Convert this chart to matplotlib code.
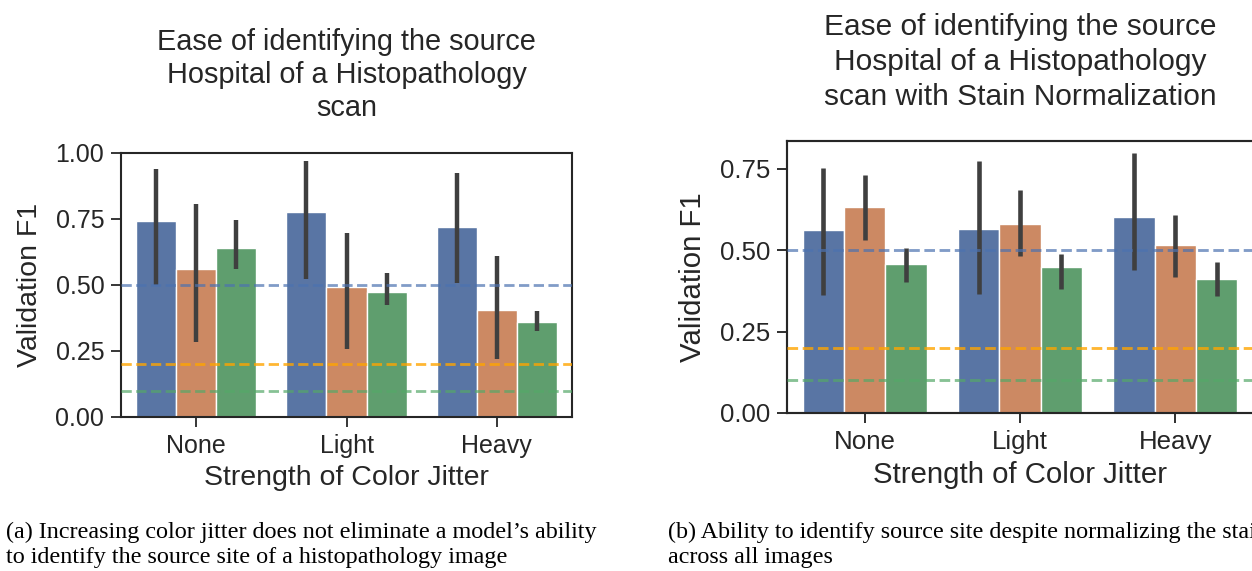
import numpy as np
import matplotlib
matplotlib.use("Agg")
import matplotlib.pyplot as plt

plt.rcParams['font.family'] = ['Liberation Sans', 'DejaVu Sans']

categories = ["None", "Light", "Heavy"]

# Left panel: mean and CI bounds per hue (3 hue levels)
left_means = [[0.743, 0.775, 0.718],
              [0.560, 0.493, 0.406],
              [0.640, 0.474, 0.358]]
left_lo = [[0.501, 0.522, 0.509],
           [0.284, 0.259, 0.219],
           [0.560, 0.425, 0.326]]
left_hi = [[0.939, 0.971, 0.923],
           [0.807, 0.697, 0.611],
           [0.746, 0.544, 0.402]]

# Right panel
right_means = [[0.561, 0.567, 0.602],
               [0.633, 0.582, 0.515],
               [0.458, 0.449, 0.412]]
right_lo = [[0.362, 0.367, 0.439],
            [0.531, 0.484, 0.418],
            [0.402, 0.381, 0.361]]
right_hi = [[0.752, 0.774, 0.799],
            [0.733, 0.686, 0.610],
            [0.507, 0.490, 0.465]]

baselines = [0.5, 0.2, 0.1]
baseline_colors = [(0.298, 0.447, 0.690, 0.7), (1.0, 0.647, 0.0, 0.8), (0.333, 0.659, 0.408, 0.7)]
bar_colors = ["#5975a4", "#cc8963", "#5f9e6e"]

yticks_left = [0.00, 0.25, 0.50, 0.75, 1.00]
yticks_right = [0.00, 0.25, 0.50, 0.75]

title_left = "Ease of identifying the source\nHospital of a Histopathology\nscan"
title_right = "Ease of identifying the source\nHospital of a Histopathology\nscan with Stain Normalization"
xlabel = "Strength of Color Jitter"
ylabel = "Validation F1"
caption_a = "(a) Increasing color jitter does not eliminate a model\u2019s ability\nto identify the source site of a histopathology image"
caption_b = "(b) Ability to identify source site despite normalizing the stain\nacross all images"

W, H = 1252, 571
fig = plt.figure(figsize=(W / 100, H / 100), dpi=100)
txt = "#262626"


def panel(rect, means, lo, hi, ylim, yticks, title, title_y, s, tls):
    ax = fig.add_axes(rect)
    x = np.arange(len(categories))
    bw = 0.8 / 3
    for h in range(3):
        xs = x - 0.4 + bw * (h + 0.5)
        ax.bar(xs, means[h], width=bw, color=bar_colors[h], edgecolor="white",
               linewidth=1.0, zorder=2)
        ax.vlines(xs, lo[h], hi[h], color="#3f3f3f", linewidth=3.2 * s, zorder=3)
    for v, c in zip(baselines, baseline_colors):
        ax.axhline(v, color=c, linestyle="--", linewidth=2.0 * s, zorder=4)
    ax.set_xlim(-0.5, 2.5)
    ax.set_ylim(*ylim)
    ax.set_xticks(x)
    ax.set_xticklabels(categories)
    ax.set_yticks(yticks)
    ax.set_yticklabels([f"{t:.2f}" for t in yticks])
    ax.tick_params(axis="both", labelsize=18 * s, length=7 * s, width=1.3 * s,
                   colors="#262626", labelcolor=txt, pad=5)
    for sp in ax.spines.values():
        sp.set_linewidth(1.5 * s)
        sp.set_color("#262626")
    ax.set_xlabel(xlabel, fontsize=20.5 * s, color=txt, labelpad=5)
    ax.set_ylabel(ylabel, fontsize=20.5 * s, color=txt, labelpad=9)
    cx = rect[0] + rect[2] / 2
    fig.text(cx, title_y, title, ha="center", va="center", fontsize=20.8 * s,
             color=txt, linespacing=tls)
    return ax


panel([121 / W, (H - 417) / H, 451 / W, 264 / H], left_means, left_lo, left_hi,
      (0, 1.0), yticks_left, title_left, 1 - 75 / H, 1.0, 1.24)
panel([787 / W, (H - 413) / H, 466 / W, 272 / H], right_means, right_lo, right_hi,
      (0, 0.836), yticks_right, title_right, 1 - 62 / H, 1.033, 1.3)

fig.text(6 / W, 1 - 545 / H, caption_a, ha="left", va="center", fontsize=17.4,
         family=["Liberation Serif", "DejaVu Serif"], color="black", linespacing=1.28)
fig.text(668 / W, 1 - 545 / H, caption_b, ha="left", va="center", fontsize=17.4,
         family=["Liberation Serif", "DejaVu Serif"], color="black", linespacing=1.28)

fig.savefig("out.png", dpi=100)
